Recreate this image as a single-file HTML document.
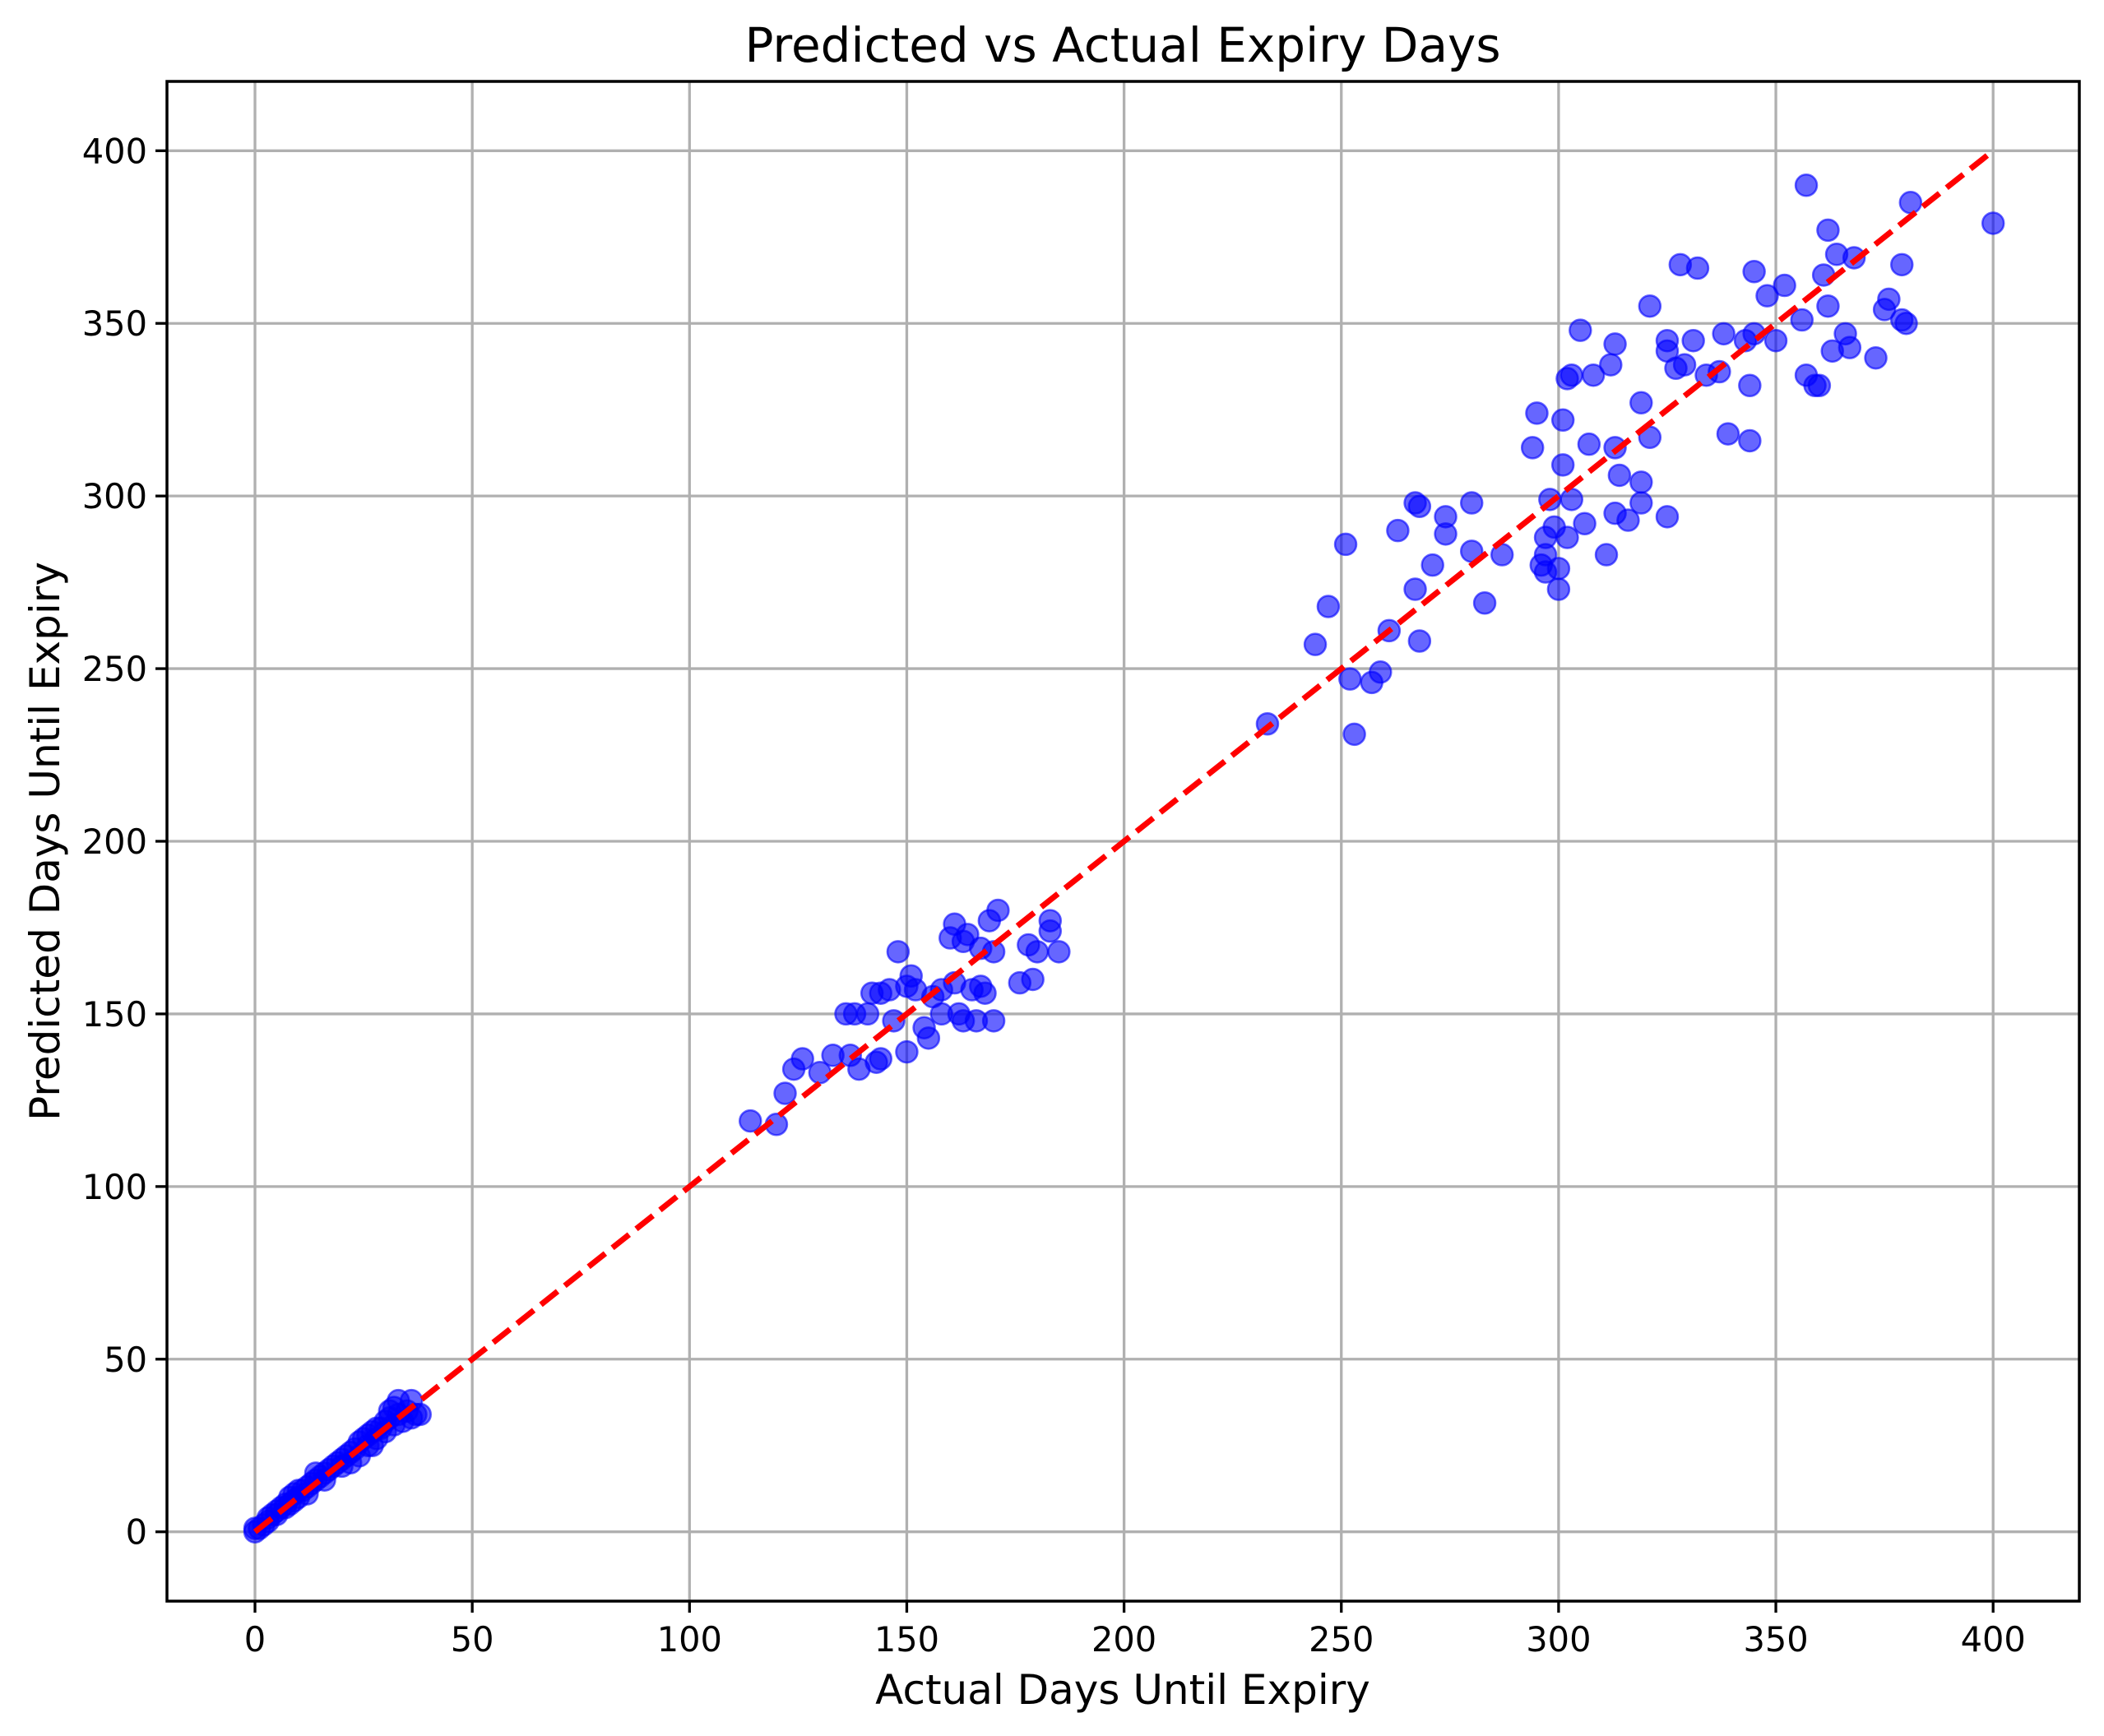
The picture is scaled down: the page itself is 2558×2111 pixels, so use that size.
<!DOCTYPE html>
<html><head><meta charset="utf-8"><style>html,body{margin:0;padding:0;background:#fff}svg{display:block}text{font-family:"DejaVu Sans","Liberation Sans",sans-serif;fill:#000}</style></head>
<body>
<svg id="chart" width="2558" height="2111" viewBox="0 0 2558 2111" xmlns="http://www.w3.org/2000/svg">
<rect width="2558" height="2111" fill="#fff"/>
<g id="grid"></g>
<g id="pts"></g>
<g id="ref"></g>
<rect x="203" y="99" width="2325" height="1848" fill="none" stroke="#000" stroke-width="3.5"/>
<g id="ticks"></g>
<text x="1365" y="75" font-size="58" text-anchor="middle">Predicted vs Actual Expiry Days</text>
<text x="1365" y="2072" font-size="50" text-anchor="middle">Actual Days Until Expiry</text>
<text x="0" y="0" font-size="50" text-anchor="middle" transform="translate(72,1023) rotate(-90)">Predicted Days Until Expiry</text>
</svg>
<script>
const xTicks=[0,50,100,150,200,250,300,350,400];
const yTicks=[0,50,100,150,200,250,300,350,400];
const actual=[0,0,1,2,3,3,4,5,5,6,7,7,8,8,9,9,10,10,11,12,12,13,14,14,15,16,16,17,18,19,20,20,21,22,22,23,24,24,25,26,26,27,27,28,28,29,30,30,31,31,32,32,33,33,34,35,36,36,37,38,
114,120,122,124,126,130,133,136,137,138,139,141,142,143,144,144,146,147,148,150,150,151,152,154,155,156,158,158,160,161,161,162,163,163,164,165,166,167,167,168,169,170,170,171,176,178,179,180,183,183,185,
233,244,247,251,252,253,257,259,261,263,267,267,268,268,271,274,274,280,280,283,287,294,295,296,297,297,297,298,299,300,300,301,301,302,302,303,303,305,306,307,308,311,312,313,313,313,314,316,319,319,319,321,321,325,325,325,327,328,329,331,332,334,337,338,339,343,344,344,345,345,348,350,352,356,357,357,359,360,361,362,362,363,364,366,367,368,373,375,376,379,379,380,381,400];
const predicted=[0,1,1,2,3,4,5,5,6,7,7,8,8,10,9,11,10,12,12,13,11,14,15,17,16,17,15,18,19,20,21,19,22,23,20,24,26,22,27,28,25,29,25,30,27,30,32,29,33,35,36,31,38,34,32,35,38,33,34,34,
119,118,127,134,137,133,138,150,138,150,134,150,156,136,137,156,157,148,168,139,158,161,157,146,143,155,157,150,172,176,159,150,171,148,173,157,148,158,169,156,177,148,168,180,159,170,160,168,177,174,168,
234,257,268,286,247,231,246,249,261,290,298,273,297,258,280,294,289,298,284,269,283,314,324,280,283,288,278,299,291,273,279,322,309,288,334,335,299,348,292,315,335,283,338,344,314,295,306,293,327,298,304,355,317,345,342,294,337,367,338,345,366,335,336,347,318,345,332,316,365,347,358,345,361,351,390,335,332,332,364,355,377,342,370,347,343,369,340,354,357,367,351,350,385,379];
const NS='http://www.w3.org/2000/svg';
const X0=203,X1=2528,Y0=99,Y1=1947;
function sx(v){return 310+v*5.283;}
function sy(v){return 1862.7-v*4.1985;}
function mk(tag,attrs,parent){const e=document.createElementNS(NS,tag);for(const k in attrs)e.setAttribute(k,attrs[k]);parent.appendChild(e);return e;}
const grid=document.getElementById('grid'),ticks=document.getElementById('ticks');
xTicks.forEach(t=>{const x=sx(t);
 const g=mk('line',{x1:x,x2:x,y1:Y0,y2:Y1,stroke:'#b0b0b0','stroke-width':3.3},grid);
 
 
 const tk=mk('line',{x1:x,x2:x,y1:Y1,y2:Y1+14,stroke:'#000','stroke-width':3.3},ticks);
 
 
 const l=mk('text',{x:x,y:2008,'font-size':41.5,'text-anchor':'middle'},ticks);l.textContent=t;
 
 
});
yTicks.forEach(t=>{const y=sy(t);
 const g=mk('line',{x1:X0,x2:X1,y1:y,y2:y,stroke:'#b0b0b0','stroke-width':3.3},grid);
 
 
 const tk=mk('line',{x1:X0-14,x2:X0,y1:y,y2:y,stroke:'#000','stroke-width':3.3},ticks);
 
 
 const l=mk('text',{x:X0-24,y:y+15,'font-size':41.5,'text-anchor':'end'},ticks);l.textContent=t;
 
 
});
const pts=document.getElementById('pts');
actual.forEach((a,i)=>{
 const c=mk('circle',{cx:sx(a),cy:sy(predicted[i]),r:13,fill:'rgba(0,0,255,0.6)',stroke:'rgba(0,0,255,0.6)','stroke-width':2.5},pts);
 
 
});
const ref=document.getElementById('ref');
const ln=mk('line',{x1:sx(0),y1:sy(0),x2:sx(400),y2:sy(400),stroke:'#ff0000','stroke-width':7,'stroke-dasharray':'26 11'},ref);


</script>
</body></html>
